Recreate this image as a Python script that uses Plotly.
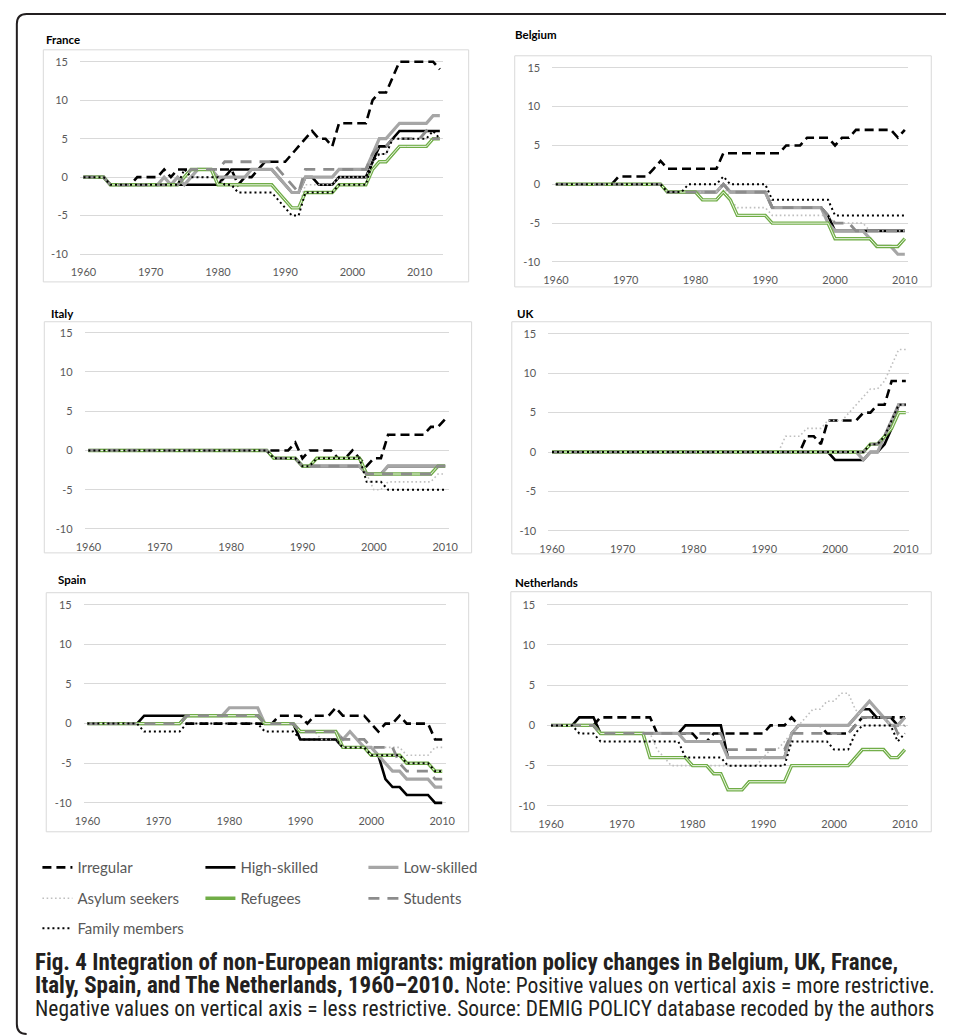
import plotly.graph_objects as go

W, H = 955, 1035

# ---------------- data (annual values) ----------------
SERIES = ["Irregular", "High-skilled", "Low-skilled", "Asylum seekers",
          "Refugees", "Students", "Family members"]

FR_YEARS = list(range(1960, 2014))
YEARS = list(range(1960, 2011))

FR_IRREGULAR = [0,0,0,0, -1,-1,-1,-1, 0,0,0,0, 1, 0, 1,1,1,1,1,1,1,1,1, -1, 0, 0, 1, 2, 2, 2, 2, 3, 4, 5, 6, 5, 5, 4,
                7, 7, 7, 7, 7, 10, 11, 11, 13, 15, 15, 15, 15, 15, 15, 14]
FR_HIGH = [0,0,0,0] + [-1]*17 + [0, 1] + [1]*6 + [0, -1, -2, -2, 0, 0, -1, -1, -1] + [0]*5 + [2, 4, 4, 5] + [6]*7
FR_LOW = [0,0,0,0] + [-1]*8 + [0, -1, 0, -1, 0, 1, 1, 1] + [0]*5 + [1]*4 + [0, -1, -2, -2] + [0]*5 + [1]*5 + \
         [3, 5, 5, 6] + [7]*5 + [8, 8]
FR_ASYLUM = [0,0,0,0] + [-1]*11 + [0]*6 + [-1]*8 + [-2, -3, -4, -4] + [-1]*5 + [0]*5 + [2, 3, 3] + [5]*6 + [5, 5]
FR_REFUGEES = [0,0,0,0] + [-1]*11 + [0] + [1]*4 + [-1]*9 + [-2, -3, -4, -4] + [-2]*5 + [-1]*5 + [1, 2, 2, 3] + \
              [4]*5 + [5, 5]
FR_STUDENTS = [0,0,0,0] + [-1]*11 + [0] + [1]*4 + [1] + [2]*8 + [1, 0, -1, -2] + [1]*10 + [3, 4, 4, 5] + [5]*4 + \
              [6, 5, 5]
FR_FAMILY = [0,0,0,0] + [-1]*11 + [1] + [0]*5 + [-1, -1] + [-2]*5 + [-2, -3, -4, -5, -5] + [-2]*5 + [-1]*5 + \
            [2, 3, 3, 5] + [5]*5 + [6, 5]

BE_IRREGULAR = [0]*9 + [1]*5 + [2, 3] + [2]*8 + [4]*9 + [5, 5, 5] + [6]*4 + [5, 6, 6] + [7]*6 + [6, 7]
BE_HIGH = [0]*16 + [-1]*8 + [0] + [-1]*6 + [-3]*8 + [-4] + [-6]*11
BE_LOW = [0]*16 + [-1]*8 + [0] + [-1]*6 + [-3]*8 + [-5] + [-6]*5 + [-7] + [-8]*3 + [-9]*2
BE_ASYLUM = [0]*16 + [-1]*8 + [0, -2] + [-3]*5 + [-4]*9 + [-5]*5 + [-6]*6
BE_REFUGEES = [0]*16 + [-1]*5 + [-2]*3 + [-1, -2] + [-4]*5 + [-5]*9 + [-7]*6 + [-8]*4 + [-7]
BE_STUDENTS = [0]*16 + [-1]*8 + [0] + [-1]*6 + [-3]*8 + [-4] + [-5]*3 + [-6]*8
BE_FAMILY = [0]*16 + [-1]*3 + [0]*5 + [1] + [0]*6 + [-2]*9 + [-4]*11

IT_IRREGULAR = [0]*29 + [1, -1] + [0]*4 + [-1, -1, 0, -1, -2, -1, -1] + [2]*6 + [3, 3, 4]
IT_HIGH = [0]*26 + [-1]*4 + [-2]*9 + [-3]*3 + [-2]*9
IT_LOW = [0]*26 + [-1]*4 + [-2]*9 + [-3]*3 + [-2]*9
IT_ASYLUM = [0]*26 + [-1]*4 + [-2]*2 + [-1]*7 + [-3, -5, -5] + [-4]*7 + [-3, -3]
IT_REFUGEES = [0]*26 + [-1]*4 + [-2]*2 + [-1]*7 + [-3]*10 + [-2]*2
IT_STUDENTS = [0]*26 + [-1]*4 + [-2]*9 + [-3]*10 + [-2]*2
IT_FAMILY = [0]*26 + [-1]*4 + [-2]*2 + [-1]*7 + [-4]*3 + [-5]*9

UK_IRREGULAR = [0]*36 + [2, 2, 1] + [4]*5 + [5, 5, 6, 6] + [9]*3
UK_HIGH = [0]*40 + [-1]*5 + [0, 0, 1, 3, 6, 6]
UK_LOW = [0]*44 + [-1, 0, 0, 2, 4, 6, 6]
UK_ASYLUM = [0]*32 + [0, 2, 2, 2, 3, 3, 3, 4, 4, 4, 5, 6, 7, 8, 8, 9, 11, 13, 13]
UK_REFUGEES = [0]*45 + [1, 1, 2, 3, 5, 5]
UK_STUDENTS = [0]*45 + [1, 1, 2, 4, 6, 6]
UK_FAMILY = [0]*45 + [1, 1, 2, 4, 6, 6]

ES_IRREGULAR = [0]*27 + [1]*4 + [0] + [1]*3 + [2] + [1]*4 + [0, -1, 0, 0, 1] + [0]*4 + [-2, -2]
ES_HIGH = [0]*8 + [1]*17 + [0]*5 + [-2]*6 + [-3]*4 + [-4]*2 + [-7] + [-8]*2 + [-9]*4 + [-10]*2
ES_LOW = [0]*14 + [1]*6 + [2]*5 + [0]*5 + [-1]*6 + [-2, -1, -2, -3, -3, -4, -5, -6, -6] + [-7]*4 + [-8]*2
ES_ASYLUM = [0]*14 + [1]*11 + [0]*5 + [-1]*3 + [-2]*3 + [-3]*8 + [-3] + [-4]*4 + [-3, -3]
ES_REFUGEES = [0]*14 + [1]*11 + [0]*5 + [-1]*6 + [-3]*4 + [-4]*5 + [-5]*4 + [-6]*2
ES_STUDENTS = [0]*14 + [1]*11 + [0]*5 + [-1]*6 + [-2]*4 + [-3]*4 + [-5] + [-6]*4 + [-7]*2
ES_FAMILY = [0]*8 + [-1]*6 + [0]*11 + [-1]*5 + [-2]*6 + [-3]*4 + [-4]*5 + [-5]*4 + [-6]*2

NL_IRREGULAR = [0]*7 + [1]*8 + [-1]*6 + [-2]*2 + [-1]*8 + [0]*3 + [1] + [0]*4 + [-1]*4 + [0] + [1]*7
NL_HIGH = [0]*4 + [1]*3 + [-1]*12 + [0]*6 + [-4]*9 + [-1] + [0]*8 + [1, 2, 2, 1, 1, 1, 0, 1]
NL_LOW = [0]*7 + [-1]*12 + [-2]*6 + [-4]*9 + [-1] + [0]*8 + [1, 2, 3, 2, 1, 0, 0, 1]
NL_ASYLUM = [0]*7 + [-1]*8 + [-3, -4] + [-5]*13 + [-4, -3, -3, -2, -1, 0, 1, 2, 2, 3, 3, 4, 4, 2, 1, 1, 1, 1, 0, 0, 0]
NL_REFUGEES = [0]*7 + [-1]*7 + [-4]*6 + [-5]*3 + [-6]*2 + [-8]*3 + [-7]*6 + [-5]*9 + [-4] + [-3]*4 + [-4]*2 + [-3]
NL_STUDENTS = [0]*7 + [-1]*18 + [-3]*9 + [-1]*9 + [0] + [1]*5 + [-1, 0]
NL_FAMILY = [0]*4 + [-1]*3 + [-2]*12 + [-4]*6 + [-5]*9 + [-2]*6 + [-3]*3 + [-1] + [0]*5 + [-2, -1]

COUNTRIES = [
    ("France", FR_YEARS, [FR_IRREGULAR, FR_HIGH, FR_LOW, FR_ASYLUM, FR_REFUGEES, FR_STUDENTS, FR_FAMILY]),
    ("Belgium", YEARS, [BE_IRREGULAR, BE_HIGH, BE_LOW, BE_ASYLUM, BE_REFUGEES, BE_STUDENTS, BE_FAMILY]),
    ("Italy", YEARS, [IT_IRREGULAR, IT_HIGH, IT_LOW, IT_ASYLUM, IT_REFUGEES, IT_STUDENTS, IT_FAMILY]),
    ("UK", YEARS, [UK_IRREGULAR, UK_HIGH, UK_LOW, UK_ASYLUM, UK_REFUGEES, UK_STUDENTS, UK_FAMILY]),
    ("Spain", YEARS, [ES_IRREGULAR, ES_HIGH, ES_LOW, ES_ASYLUM, ES_REFUGEES, ES_STUDENTS, ES_FAMILY]),
    ("Netherlands", YEARS, [NL_IRREGULAR, NL_HIGH, NL_LOW, NL_ASYLUM, NL_REFUGEES, NL_STUDENTS, NL_FAMILY]),
]

X_TICKS = [1960, 1970, 1980, 1990, 2000, 2010]
Y_TICKS = [-10, -5, 0, 5, 10, 15]

# ---------------- layout constants (pixels) ----------------
# (x of 1960, x of 2010, y of 15, y of -10, box, title position)
PANELS = [
    (76, 419, 59, 252, (35, 47, 469, 280), (36, 37)),
    (558, 914, 65, 260, (516, 53, 941, 285), (514, 32)),
    (81, 445, 331, 528, (36, 320, 472, 552), (41, 312)),
    (554, 915, 332, 530, (513, 320, 941, 553), (516, 312)),
    (80, 442, 604, 803, (38, 592, 469, 832), (48, 579)),
    (553, 914, 604, 806, (512, 591, 941, 832), (514, 582)),
]

STYLES = {
    "Irregular": dict(color="#000000", width=2.6, dash="9px,5px"),
    "High-skilled": dict(color="#000000", width=2.6, dash="solid"),
    "Low-skilled": dict(color="#a6a6a6", width=3.2, dash="solid"),
    "Asylum seekers": dict(color="#bfbfbf", width=1.6, dash="1.6px,2.6px"),
    "Refugees": dict(color="#70ad47", width=3.4, dash="solid"),
    "Students": dict(color="#8c8c8c", width=2.8, dash="11px,8px"),
    "Family members": dict(color="#000000", width=2.0, dash="2px,3px"),
}
LEGEND_OF = {"Irregular": "legend", "High-skilled": "legend", "Low-skilled": "legend",
             "Asylum seekers": "legend2", "Refugees": "legend2", "Students": "legend2",
             "Family members": "legend3"}

CHART_FONT = "Lato, Open Sans, sans-serif"
TEXT_GREY = "#595959"


def px_x(v):
    return v / W


def px_y(v):
    return 1 - v / H


fig = go.Figure()
layout = dict(
    width=W, height=H, margin=dict(l=0, r=0, t=0, b=0),
    paper_bgcolor="white", plot_bgcolor="white",
    font=dict(family=CHART_FONT, color=TEXT_GREY, size=11),
    shapes=[], annotations=[],
)

for i, ((name, years, series), (x60, x10, y15, ym10, box, tpos)) in enumerate(zip(COUNTRIES, PANELS)):
    sfx = "" if i == 0 else str(i + 1)
    ppy = (x10 - x60) / 50.0
    last = years[-1]
    xr = [1959.5, last + 0.5]
    xl = x60 - 0.5 * ppy
    xrgt = x60 + (last + 0.5 - 1960) * ppy
    ppu = (ym10 - y15) / 25.0
    pad = 0.6
    ytop = y15 - pad * ppu
    ybot = ym10 + pad * ppu

    layout["xaxis" + sfx] = dict(
        domain=[px_x(xl), px_x(xrgt)], range=xr, anchor="y" + sfx,
        tickvals=X_TICKS, ticktext=[str(t) for t in X_TICKS],
        showgrid=False, zeroline=False, showline=False,
        ticks="outside", ticklen=3, tickcolor="rgba(0,0,0,0)",
        tickfont=dict(family=CHART_FONT, size=11, color=TEXT_GREY), fixedrange=True,
    )
    layout["yaxis" + sfx] = dict(
        domain=[px_y(ybot), px_y(ytop)], range=[-10 - pad, 15 + pad], anchor="x" + sfx,
        tickvals=Y_TICKS, ticktext=[str(t) for t in Y_TICKS],
        showgrid=True, gridcolor="#d9d9d9", gridwidth=1, zeroline=False, showline=False,
        ticks="outside", ticklen=9, tickcolor="rgba(0,0,0,0)",
        tickfont=dict(family=CHART_FONT, size=11, color=TEXT_GREY), fixedrange=True,
    )

    for sname, vals in zip(SERIES, series):
        st = STYLES[sname]
        fig.add_trace(go.Scatter(
            x=years, y=vals, mode="lines", name=sname,
            xaxis="x" + sfx, yaxis="y" + sfx,
            line=dict(color=st["color"], width=st["width"], dash=st["dash"]),
            showlegend=(i == 0), legend=LEGEND_OF[sname], legendgroup=sname,
            hoverinfo="skip",
        ))
        if sname == "Refugees":
            fig.add_trace(go.Scatter(
                x=years, y=vals, mode="lines", name=sname,
                xaxis="x" + sfx, yaxis="y" + sfx,
                line=dict(color="#eef6e8", width=1.0),
                showlegend=False, legendgroup=sname, hoverinfo="skip",
            ))

    bx0, by0, bx1, by1 = box
    layout["shapes"].append(dict(
        type="rect", xref="paper", yref="paper",
        x0=px_x(bx0), x1=px_x(bx1), y0=px_y(by1), y1=px_y(by0),
        line=dict(color="#d9d9d9", width=1), fillcolor="rgba(0,0,0,0)", layer="below",
    ))
    layout["annotations"].append(dict(
        xref="paper", yref="paper", x=px_x(tpos[0]), y=px_y(tpos[1]),
        xanchor="left", yanchor="middle", showarrow=False,
        text="<b>" + name + "</b>", font=dict(family=CHART_FONT, size=11.5, color="#000000"),
    ))

# outer frame (open on the right)
frame = "M {a} {b} L {c} {b} Q {d} {b} {d} {e} L {d} {f} Q {d} {g} {c} {g}".format(
    a=px_x(956), b=px_y(11), c=px_x(18), d=px_x(8), e=px_y(21), f=px_y(1025), g=px_y(1035))
layout["shapes"].append(dict(type="path", xref="paper", yref="paper", path=frame,
                             line=dict(color="#231f20", width=2)))

# legends
LEG_X = 29
for key, ypx in (("legend", 868), ("legend2", 899), ("legend3", 929)):
    layout[key] = dict(
        orientation="h", x=px_x(LEG_X), y=px_y(ypx), xanchor="left", yanchor="middle",
        xref="paper", yref="paper", entrywidth=118, entrywidthmode="pixels",
        font=dict(family=CHART_FONT, size=15, color=TEXT_GREY),
        bgcolor="rgba(0,0,0,0)", borderwidth=0, itemclick=False, itemdoubleclick=False,
        tracegroupgap=0,
    )

# caption (one text block, three lines)
CAP_FONT = "Roboto Condensed, Liberation Sans Narrow, Arial Narrow, sans-serif"
BOLD = '<span style="font-size:23px"><b>{}</b></span>'
REG = '<span style="font-size:21.5px">{}</span>'
CAPTION_LINES = [
    BOLD.format("Fig. 4 Integration of non-European migrants: migration policy changes in Belgium, UK, France,"),
    BOLD.format("Italy, Spain, and The Netherlands, 1960–2010.")
    + REG.format(" Note: Positive values on vertical axis = more restrictive."),
    REG.format("Negative values on vertical axis = less restrictive. Source: DEMIG POLICY database recoded by the authors"),
]
layout["annotations"].append(dict(
    xref="paper", yref="paper", x=px_x(24), y=px_y(986), xanchor="left", yanchor="middle",
    align="left", showarrow=False, text="<br>".join(CAPTION_LINES),
    font=dict(family=CAP_FONT, size=17.7, color="#231f20"),
))

fig.update_layout(**layout)
fig.write_html(
    "out.html",
    config={"displayModeBar": False},
    post_script="document.body.style.margin='0';document.body.style.overflow='hidden';",
)
